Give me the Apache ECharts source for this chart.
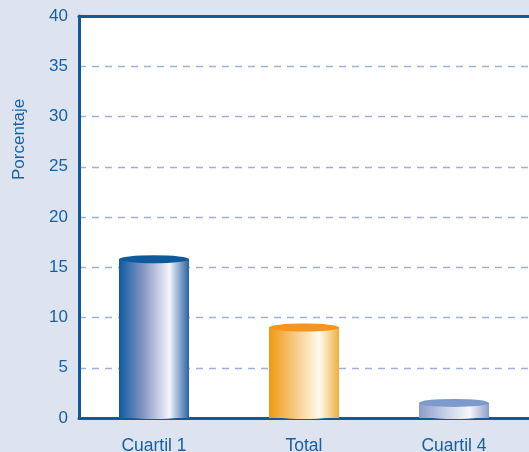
<!DOCTYPE html>
<html>
<head>
<meta charset="utf-8">
<script src="https://cdn.jsdelivr.net/npm/echarts@6/dist/echarts.min.js"></script>
<style>
html, body { margin: 0; padding: 0; background: #dde4f0; }
#main { width: 529px; height: 452px; }
</style>
</head>
<body>
<div id="main"></div>
<script>
var categories = ['Cuartil 1', 'Total', 'Cuartil 4'];
var values = [15.8, 9.0, 1.5];

// colores de cada cilindro: lado (degradado) y tapa
var palettes = [
    { left: '#0d5a9e', mid: '#8797c2', light: '#f4f5fa', right: '#2a63a3', top: '#0f5a9c' },
    { left: '#ef9a12', mid: '#f6c77c', light: '#fffaf0', right: '#f0ae3c', top: '#f7941d' },
    { left: '#8c9dc9', mid: '#c3cce3', light: '#f7f8fc', right: '#8c9dc9', top: '#7e99cb' }
];

function sideGradient(p) {
    return new echarts.graphic.LinearGradient(0, 0, 1, 0, [
        { offset: 0, color: p.left },
        { offset: 0.35, color: p.mid },
        { offset: 0.72, color: p.light },
        { offset: 1, color: p.right }
    ]);
}

var blue = '#1560a6';
var axisBlue = '#0d5a9e';
var font = '"Liberation Sans", Arial, sans-serif';
var myChart = echarts.init(document.getElementById('main'));

var option = {
    backgroundColor: '#dde4f0',
    animation: false,
    grid: {
        left: 79, top: 16, right: 0, bottom: 34,
        outerBoundsMode: 'none',
        show: true,
        backgroundColor: '#ffffff',
        borderWidth: 0
    },
    graphic: [{
        type: 'text',
        rotation: Math.PI / 2,
        x: 11, y: 180,
        style: {
            text: 'Porcentaje',
            fill: blue,
            font: '17px ' + font
        }
    }],
    xAxis: [
        {
            type: 'category',
            data: categories,
            axisLine: { show: true, lineStyle: { color: axisBlue, width: 3 } },
            axisTick: { show: false },
            axisLabel: {
                color: blue,
                fontSize: 17.5,
                fontFamily: font,
                margin: 19
            }
        },
        {
            // borde superior del área
            type: 'category',
            position: 'top',
            data: categories,
            axisLine: { show: true, lineStyle: { color: axisBlue, width: 3 } },
            axisTick: { show: false },
            axisLabel: { show: false }
        }
    ],
    yAxis: {
        type: 'value',
        min: 0, max: 40, interval: 5,
        axisLine: { show: true, lineStyle: { color: axisBlue, width: 3 } },
        axisTick: { show: false },
        axisLabel: {
            color: blue,
            fontSize: 17,
            fontFamily: font,
            margin: 11
        },
        splitLine: {
            show: true,
            lineStyle: { color: '#9fb1d6', type: [7, 6], width: 1.4 }
        }
    },
    series: [
        {
            type: 'bar',
            barWidth: 70,
            z: 2,
            data: values.map(function (v, i) {
                return { value: v, itemStyle: { color: sideGradient(palettes[i]) } };
            })
        },
        {
            // base del cilindro
            type: 'pictorialBar',
            symbol: 'circle',
            symbolSize: [70, 8],
            symbolPosition: 'start',
            symbolOffset: [0, 1],
            z: 3,
            data: values.map(function (v, i) {
                return { value: v, itemStyle: { color: sideGradient(palettes[i]) } };
            })
        },
        {
            // tapa del cilindro
            type: 'pictorialBar',
            symbol: 'circle',
            symbolSize: [70, 8],
            symbolPosition: 'end',
            symbolOffset: [0, -4],
            z: 4,
            data: values.map(function (v, i) {
                return { value: v, itemStyle: { color: palettes[i].top } };
            })
        }
    ]
};

myChart.setOption(option);
</script>
</body>
</html>
